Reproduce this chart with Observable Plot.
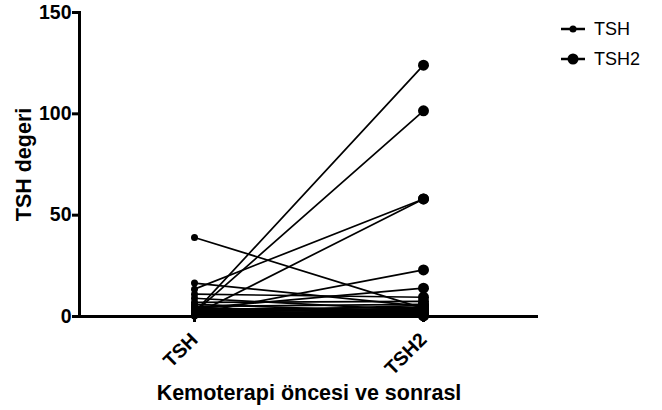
<!DOCTYPE html>
<html>
<head>
<meta charset="utf-8">
<script src="https://cdn.jsdelivr.net/npm/d3@7"></script>
<script src="https://cdn.jsdelivr.net/npm/@observablehq/plot@0.6"></script>
<style>
  html, body { margin: 0; padding: 0; background: #fff; }
  #wrap { position: relative; width: 662px; height: 410px; font-family: "Liberation Sans", Arial, sans-serif; }
  #legend { position: absolute; left: 560px; top: 14px; font-size: 18px; color: #000; }
  #legend div { display: flex; align-items: center; height: 30px; }
  #legend svg { margin-right: 8px; }
  g[aria-label="x-axis label"] text, g[aria-label="y-axis label"] text { font-size: 21.5px; font-weight: bold; }
</style>
</head>
<body>
<div id="wrap"><div id="chart"></div><div id="legend"></div></div>
<script>
const categories = ["TSH", "TSH2"];
const tshValues  = [2, 2, 13.5, 1, 1.5, 4, 39, 16.5, 11, 9, 7, 6, 5, 4.5, 3.5, 3, 2.5, 2, 1.8, 1.5, 1.2, 1, 0.8, 0.5, 3, 2.2, 4, 0.3, 1.4, 2.8];
const tsh2Values = [124, 101.5, 58, 58, 23, 14, 4, 5, 9.5, 3, 7.5, 2, 6, 1, 4.5, 2.5, 3.5, 1.5, 5.5, 2, 3, 0.8, 1.2, 2.2, 0.5, 4, 2.8, 1.8, 0.3, 1];
const yTicks = [0, 50, 100, 150];
const dotRadius = {TSH: 3.5, TSH2: 5.5};

const data = [];
tshValues.forEach((v, i) => {
  data.push({id: i, cat: categories[0], value: v});
  data.push({id: i, cat: categories[1], value: tsh2Values[i]});
});

const font = "Liberation Sans, Arial, sans-serif";
const chart = Plot.plot({
  width: 662,
  height: 410,
  marginLeft: 79,
  marginRight: 124,
  marginTop: 12,
  marginBottom: 94,
  style: {fontFamily: font, color: "#000", background: "#fff"},
  x: {type: "point", domain: categories, padding: 0.5},
  y: {domain: [0, 150]},
  marks: [
    Plot.line(data, {x: "cat", y: "value", z: "id", stroke: "#000", strokeWidth: 1.7}),
    ...categories.map(c => Plot.dot(data.filter(d => d.cat === c), {x: "cat", y: "value", r: dotRadius[c], fill: "#000", stroke: "none"})),
    Plot.ruleY([0], {stroke: "#000", strokeWidth: 3}),
    Plot.frame({anchor: "left", stroke: "#000", strokeWidth: 3}),
    Plot.axisY({ticks: yTicks, tickSize: 7, tickPadding: 1, strokeWidth: 3, fontSize: 19.5, fontWeight: "bold",
      label: "TSH degeri", labelAnchor: "center", labelArrow: "none", labelOffset: 64}),
    Plot.axisX({tickSize: 6, tickPadding: 14, strokeWidth: 3, fontSize: 19.5, fontWeight: "bold", tickRotate: -45,
      label: "Kemoterapi öncesi ve sonrasl", labelAnchor: "center", labelArrow: "none", labelOffset: 83})
  ]
});
document.getElementById("chart").appendChild(chart);

const legend = document.getElementById("legend");
categories.forEach(c => {
  const row = document.createElement("div");
  const r = dotRadius[c];
  row.innerHTML = `<svg width="26" height="14"><line x1="1" x2="25" y1="7" y2="7" stroke="#000" stroke-width="2.5"/><circle cx="13" cy="7" r="${r}" fill="#000"/></svg><span>${c}</span>`;
  legend.appendChild(row);
});
</script>
</body>
</html>
